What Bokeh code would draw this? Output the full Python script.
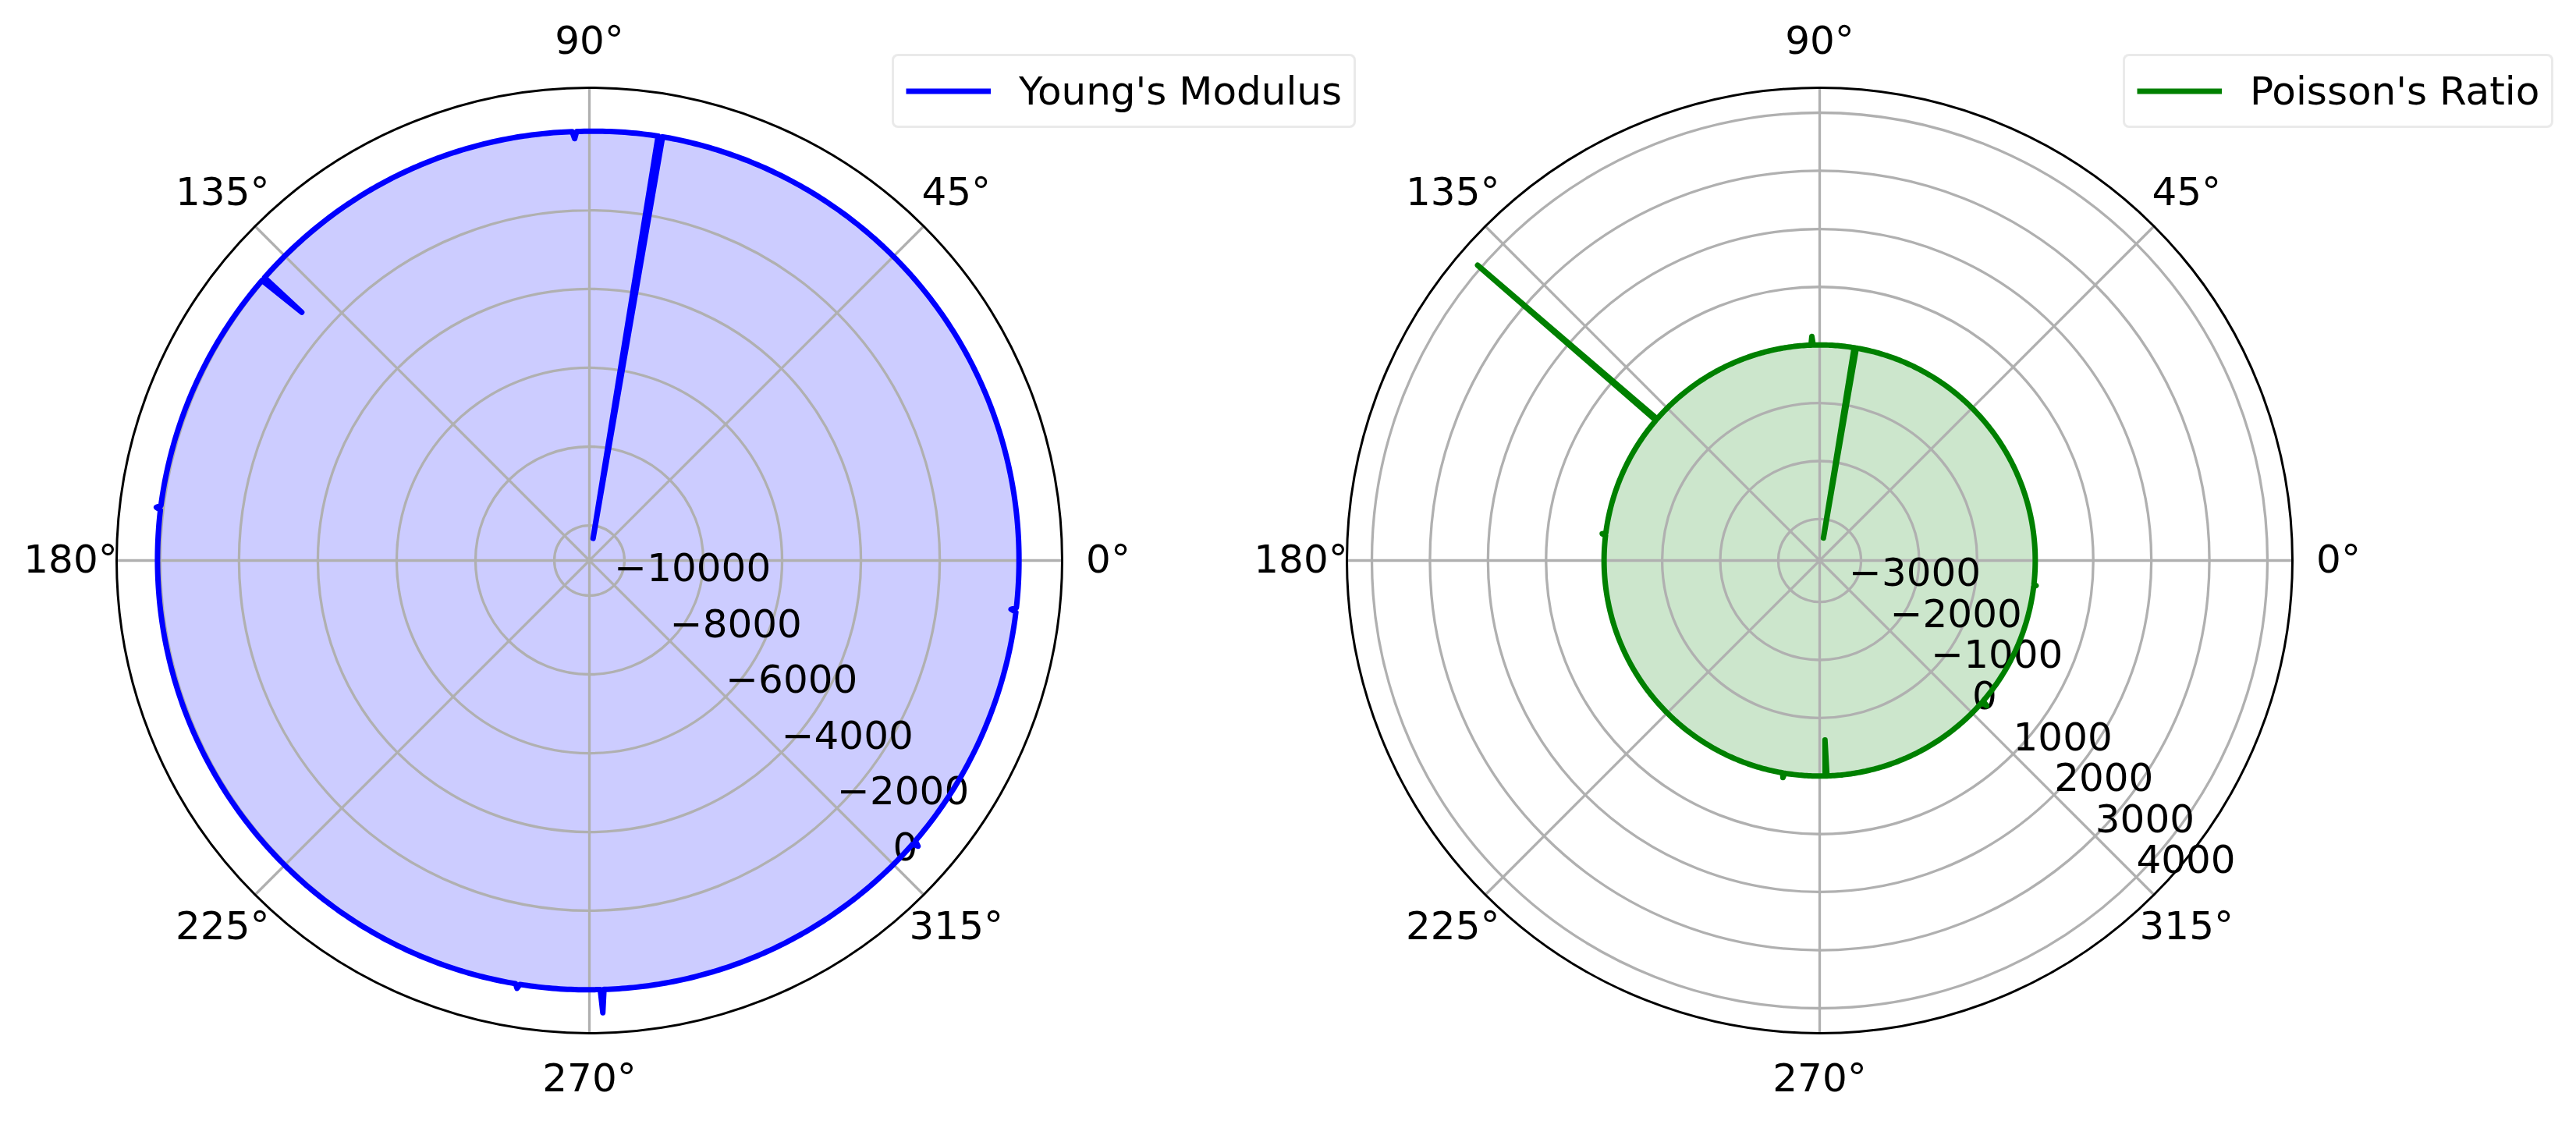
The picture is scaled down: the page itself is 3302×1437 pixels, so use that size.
import numpy as np
from bokeh.plotting import figure
from bokeh.models import Range1d, Legend, LegendItem
from bokeh.core.properties import value
from bokeh.embed import file_html
from bokeh.resources import INLINE

# shared angle grid (degrees)
angles = [0, 30, 60, 80.2, 80.5, 80.8, 91.7, 92.0, 92.3, 120,
          138.95, 139.2, 139.45, 160, 172.7, 173.0, 173.3, 200, 230,
          260.1, 260.4, 260.7, 271.45, 271.7, 271.95, 295,
          318.7, 319.0, 319.3, 340, 353.1, 353.4, 353.7, 360]

youngs_modulus = [10, 20, 20, 20, -10320, 20, 0, -180, 0, 30,
                  40, -1250, 40, 60, 70, 180, 70, 60, 40,
                  10, 120, 10, 0, 590, 0, 10,
                  20, 160, 20, 10, 10, -120, 10, 10]

poissons_ratio = [0.3, 0.3, 0.3, 0.3, -3320, 0.3, 0.3, 150, 0.3, 0.3,
                  0.3, 4070, 0.3, 0.3, 0.3, 60, 0.3, 0.3, 0.3,
                  0.3, 80, 0.3, 0.3, -620, 0.3, 0.3,
                  0.3, 100, 0.3, 0.3, 0.3, 40, 0.3, 0.3]

theta_ticks = [0, 45, 90, 135, 180, 225, 270, 315]
young_rticks = [-10000, -8000, -6000, -4000, -2000, 0]
poisson_rticks = [-3000, -2000, -1000, 0, 1000, 2000, 3000, 4000]

# radial view limits of each polar axis
young_rlim = (-10890, 1105)
poisson_rlim = (-3713, 4430)

W, H = 3302, 1437
R = 606            # polar axes radius, px
LABEL_R = 665      # theta labels distance
FONT = value("DejaVu Sans")
GRID = "#b0b0b0"


def rpix(v, lim):
    return (np.asarray(v, dtype=float) - lim[0]) / (lim[1] - lim[0]) * R


def polar_path(th, vals, lim, cx, cy):
    # matplotlib draws polar lines interpolated in (theta, r) -> arcs; do the same
    xs, ys = [], []
    for i in range(len(th) - 1):
        n = max(1, int(np.ceil(abs(th[i + 1] - th[i]) / 0.5)))
        f = np.arange(n) / n
        t = np.radians(th[i] + (th[i + 1] - th[i]) * f)
        rr = rpix(vals[i] + (vals[i + 1] - vals[i]) * f, lim)
        xs.extend(cx + rr * np.cos(t))
        ys.extend(cy + rr * np.sin(t))
    rr = rpix(vals[-1], lim)
    xs.append(cx + rr * np.cos(np.radians(th[-1])))
    ys.append(cy + rr * np.sin(np.radians(th[-1])))
    return xs, ys


p = figure(width=W, height=H, x_range=Range1d(0, W), y_range=Range1d(0, H),
           output_backend="svg", toolbar_location=None, min_border=0,
           x_axis_location=None, y_axis_location=None)
p.grid.visible = False
p.outline_line_color = None


def polar_panel(cx, cy, vals, lim, rticks, color, label, legend_xy):
    xs, ys = polar_path(angles, vals, lim, cx, cy)
    p.patch(xs, ys, fill_color=color, fill_alpha=0.2, line_color=None)

    # grid
    rr = rpix(rticks, lim)
    p.circle(x=[cx] * len(rr), y=[cy] * len(rr), radius=list(rr),
             fill_color=None, line_color=GRID, line_width=3.3)
    t = np.radians(theta_ticks)
    p.segment(x0=[cx] * len(t), y0=[cy] * len(t),
              x1=list(cx + R * np.cos(t)), y1=list(cy + R * np.sin(t)),
              line_color=GRID, line_width=3.3)

    # radial tick labels along -45 deg
    a = np.radians(-45)
    p.text(x=list(cx + rr * np.cos(a)), y=list(cy + rr * np.sin(a)),
           text=[f"{v}".replace("-", "\u2212") for v in rticks],
           text_align="left", text_baseline="alphabetic", y_offset=-23,
           text_font=FONT, text_font_size="50px", text_color="black")

    line = p.line(xs, ys, line_color=color, line_width=7, line_join="round")

    p.circle(x=[cx], y=[cy], radius=[R], fill_color=None,
             line_color="black", line_width=3)

    p.text(x=list(cx + LABEL_R * np.cos(t)), y=list(cy + LABEL_R * np.sin(t)),
           text=[f"{d}\u00b0" for d in theta_ticks],
           text_align="center", text_baseline="middle", y_offset=-2,
           text_font=FONT, text_font_size="50px", text_color="black")

    leg = Legend(items=[LegendItem(label=label, renderers=[line])],
                 location=legend_xy, margin=0, padding=15, spacing=0,
                 glyph_width=109, glyph_height=59, label_height=59,
                 label_standoff=36, label_text_font="DejaVu Sans",
                 label_text_font_size="50px", label_text_color="black",
                 border_line_color="#d6d6d6", border_line_width=3,
                 background_fill_alpha=0.8)
    if "border_radius" in Legend.properties():
        leg.border_radius = 8
    p.add_layout(leg)


polar_panel(755, 719, youngs_modulus, young_rlim, young_rticks,
            "blue", "Young's Modulus", (1143, 1273))
polar_panel(2332, 719, poissons_ratio, poisson_rlim, poisson_rticks,
            "green", "Poisson's Ratio", (2721, 1273))

open("out.html", "w").write(file_html(p, INLINE))
